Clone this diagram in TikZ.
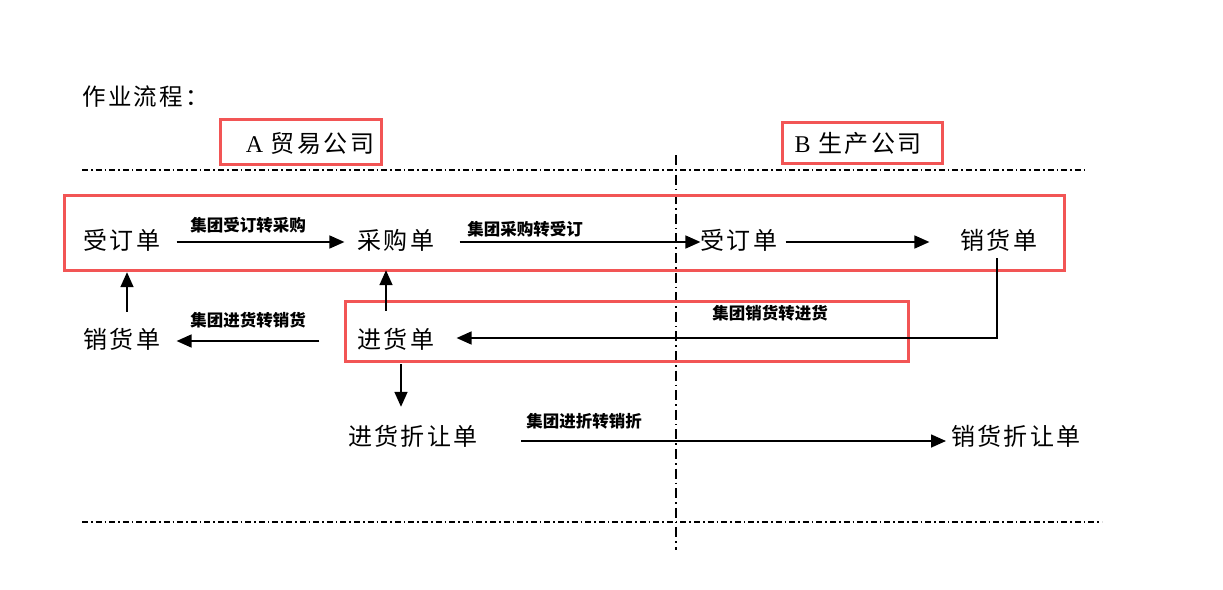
\documentclass[tikz,border=0pt]{standalone}
\usepackage{fontspec}
\setmainfont{Noto Sans CJK SC}
\newfontfamily\mainf[LetterSpace=10]{Noto Sans CJK SC}
\newfontfamily\latinf{Liberation Serif}
\usetikzlibrary{arrows.meta}
\definecolor{boxred}{RGB}{242,85,85}
\tikzset{
  doc/.style={inner sep=0pt, font=\mainf\fontsize{24}{27}\selectfont, text height=19pt, text depth=5pt},
  lbl/.style={inner sep=0pt, font=\bfseries\fontsize{16.5}{18}\selectfont},
  arr/.style={line width=1.6pt, -{Triangle[length=15pt,width=13pt]}},
  redbox/.style={draw=boxred, line width=3pt},
  hsep/.style={line width=1.5pt, dash pattern=on 6pt off 3pt on 1.6pt off 3pt},
  vsep/.style={line width=1.5pt, dash pattern=on 10pt off 4pt on 1.6pt off 4pt},
  comp/.style={inner sep=0pt, font=\mainf\fontsize{24}{26}\selectfont},
}
\begin{document}
\begin{tikzpicture}[x=1pt,y=-1pt]
\useasboundingbox (0,0) rectangle (1223,589);
% title
\node[anchor=west, inner sep=0pt, font=\mainf\fontsize{23.5}{26}\selectfont] (title) at (82,97) {作业流程：};
% company boxes
\draw[redbox] (220,119) rectangle (381,164);
\node[comp] (ca) at (310,143) {{\latinf A} 贸易公司};
\draw[redbox] (782,122) rectangle (942,163);
\node[comp] (cb) at (858,143) {{\latinf B} 生产公司};
% separators
\draw[hsep] (82,170) -- (1088,170);
\draw[hsep] (82,522) -- (1102,522);
\draw[vsep] (676,155) -- (676,550);
% red boxes
\draw[redbox] (64,195) rectangle (1064,270);
\draw[redbox] (345,301) rectangle (908,361);
% document nodes
\node[doc] (a1) at (122,242) {受订单};
\node[doc] (a2) at (396,242) {采购单};
\node[doc] (b1) at (739,242) {受订单};
\node[doc] (b2) at (999,242) {销货单};
\node[doc] (a3) at (122,341) {销货单};
\node[doc] (a4) at (396,341) {进货单};
\node[doc] (a5) at (413,438) {进货折让单};
\node[doc] (b3) at (1016,438) {销货折让单};
% labels
\node[lbl] (l1) at (248,225) {集团受订转采购};
\node[lbl] (l2) at (525,229) {集团采购转受订};
\node[lbl] (l3) at (770,313) {集团销货转进货};
\node[lbl] (l4) at (248,320) {集团进货转销货};
\node[lbl] (l5) at (584,421) {集团进折转销折};
% connectors
\draw[arr, shorten <=16pt, shorten >=13pt] (a1.east) -- (a2.west);
\draw[arr, shorten <=25pt, shorten >=0pt] (a2.east) -- (b1.west);
\draw[arr, shorten <=8pt, shorten >=31pt] (b1.east) -- (b2.west);
\draw[arr, shorten <=4pt, shorten >=22pt] ([xshift=-2pt]b2.south) |- ([yshift=3pt]a4.east);
\draw[arr, shorten <=38pt, shorten >=16pt] (a4.west) -- (a3.east);
\draw[arr, shorten <=17pt, shorten >=18pt] ([xshift=5pt]a3.north) -- ([xshift=5pt]a1.south);
\draw[arr, shorten <=18pt, shorten >=16pt] ([xshift=-10pt]a4.north) -- ([xshift=-10pt]a2.south);
\draw[arr, shorten <=11pt, shorten >=19pt] ([xshift=5pt]a4.south) -- ([xshift=-12pt]a5.north);
\draw[arr, shorten <=43pt, shorten >=5pt] ([yshift=-3pt]a5.east) -- ([yshift=-3pt]b3.west);
\end{tikzpicture}
\end{document}
